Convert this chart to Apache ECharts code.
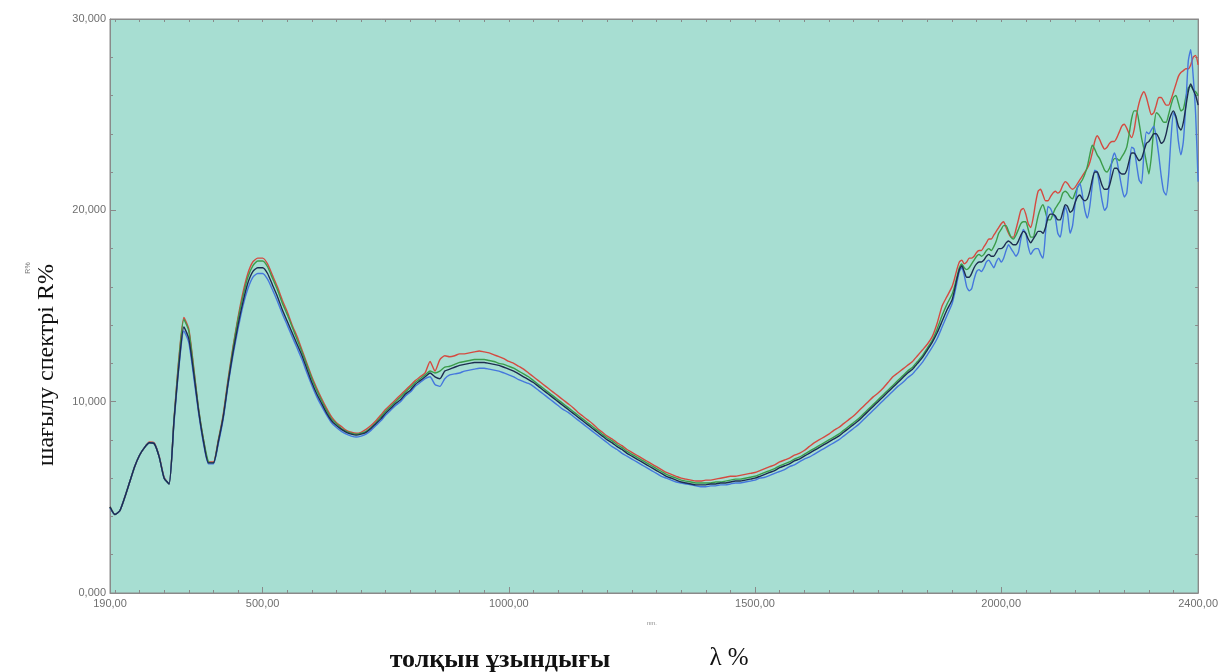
<!DOCTYPE html>
<html><head><meta charset="utf-8">
<script src="https://cdn.jsdelivr.net/npm/echarts@6/dist/echarts.min.js"></script>
<style>html,body{margin:0;padding:0;background:#fff}#c{width:1221px;height:672px}</style>
</head><body><div id="c"></div>
<script>
const wavelength = [
190,200,210,220,230,240,250,260,270,280,
290,300,310,320,330,340,350,360,370,380,
390,400,410,420,430,440,450,460,470,480,
490,500,510,520,530,540,550,560,570,580,
590,600,610,620,630,640,650,660,670,680,
690,700,710,720,730,740,750,760,770,780,
790,800,810,820,830,840,850,860,870,880,
890,900,910,920,930,940,950,960,970,980,
990,1000,1010,1020,1030,1040,1050,1060,1070,1080,
1090,1100,1110,1120,1130,1140,1150,1160,1170,1180,
1190,1200,1210,1220,1230,1240,1250,1260,1270,1280,
1290,1300,1310,1320,1330,1340,1350,1360,1370,1380,
1390,1400,1410,1420,1430,1440,1450,1460,1470,1480,
1490,1500,1510,1520,1530,1540,1550,1560,1570,1580,
1590,1600,1610,1620,1630,1640,1650,1660,1670,1680,
1690,1700,1710,1720,1730,1740,1750,1760,1770,1780,
1790,1800,1810,1820,1830,1840,1850,1860,1870,1880,
1890,1900,
1905,1910,1915,1920,1925,1930,1935,1940,1945,1950,
1955,1960,1965,1970,1975,1980,1985,1990,1995,2000,
2005,2010,2015,2020,2025,2030,2035,2040,2045,2050,
2055,2060,2065,2070,2075,2080,2085,2090,2095,2100,
2105,2110,2115,2120,2125,2130,2135,2140,2145,2150,
2155,2160,2165,2170,2175,2180,2185,2190,2195,2200,
2205,2210,2215,2220,2225,2230,2235,2240,2245,2250,
2255,2260,2265,2270,2275,2280,2285,2290,2295,2300,
2305,2310,2315,2320,2325,2330,2335,2340,2345,2350,
2355,2360,2365,2370,2375,2380,2385,2390,2395,2400
];

const sampleRed = [
4.5,4.1,4.3,5.0,5.8,6.6,7.2,7.6,7.9,7.85,
7.15,6.05,5.7,9.1,12.3,14.4,13.8,11.8,9.6,8.0,
6.85,6.85,8.0,9.35,11.2,12.9,14.4,15.7,16.7,17.3,
17.5,17.5,17.2,16.6,16.0,15.3,14.7,14.0,13.4,12.7,
12.0,11.3,10.7,10.15,9.65,9.2,8.9,8.7,8.5,8.4,
8.35,8.4,8.55,8.75,9.0,9.3,9.6,9.85,10.1,10.35,
10.6,10.85,11.1,11.3,11.5,12.1,11.6,12.2,12.4,12.35,
12.4,12.5,12.5,12.55,12.6,12.65,12.6,12.55,12.45,12.35,
12.25,12.1,12.0,11.85,11.7,11.5,11.3,11.1,10.9,10.7,
10.5,10.3,10.1,9.9,9.7,9.45,9.25,9.05,8.85,8.6,
8.4,8.2,8.05,7.85,7.7,7.5,7.35,7.2,7.05,6.9,
6.75,6.6,6.45,6.3,6.2,6.1,6.0,5.95,5.9,5.85,
5.85,5.9,5.9,5.95,6.0,6.05,6.1,6.1,6.15,6.2,
6.25,6.3,6.4,6.5,6.6,6.7,6.85,6.95,7.05,7.2,
7.3,7.45,7.65,7.85,8.0,8.15,8.3,8.5,8.65,8.85,
9.05,9.25,9.5,9.75,10.0,10.25,10.45,10.7,11.0,11.3,
11.5,11.7,11.9,12.1,12.4,12.7,13.0,13.4,14.1,15.0,
15.5,16.0,
16.4,16.9,17.3,17.4,17.2,17.3,17.5,17.5,17.6,17.8,
17.9,17.9,18.1,18.3,18.5,18.5,18.7,18.9,19.1,19.3,
19.4,19.1,18.8,18.6,18.6,19.0,19.5,20.0,20.1,19.8,
19.3,19.1,19.6,20.4,21.0,21.1,20.8,20.5,20.5,20.7,
20.9,21.0,20.9,21.0,21.3,21.5,21.4,21.2,21.1,21.2,
21.4,21.6,21.8,22.0,22.2,22.5,23.0,23.6,23.9,23.7,
23.4,23.2,23.3,23.5,23.6,23.6,23.8,24.1,24.4,24.5,
24.3,24.0,23.8,24.2,25.0,25.6,26.0,26.2,25.9,25.4,
25.0,25.1,25.5,25.9,25.9,25.7,25.5,25.5,25.8,26.2,
26.6,27.0,27.2,27.3,27.4,27.4,27.6,28.0,28.1,27.6
];

const sampleGreen = [
4.5,4.1,4.3,5.0,5.8,6.6,7.2,7.6,7.85,7.8,
7.1,6.0,5.7,9.05,12.2,14.3,13.7,11.7,9.6,8.0,
6.85,6.8,7.95,9.25,11.1,12.8,14.3,15.5,16.5,17.1,
17.35,17.35,17.05,16.45,15.85,15.15,14.55,13.9,13.25,12.6,
11.9,11.2,10.6,10.05,9.55,9.1,8.85,8.6,8.45,8.35,
8.3,8.35,8.45,8.65,8.9,9.2,9.5,9.75,10.0,10.25,
10.5,10.75,11.0,11.2,11.4,11.6,11.5,11.6,11.8,11.85,
11.95,12.05,12.1,12.15,12.2,12.2,12.2,12.15,12.1,12.0,
11.95,11.85,11.75,11.6,11.45,11.3,11.1,10.9,10.7,10.5,
10.3,10.1,9.9,9.7,9.5,9.3,9.1,8.9,8.7,8.5,
8.3,8.1,7.95,7.75,7.6,7.4,7.25,7.1,6.95,6.8,
6.65,6.5,6.35,6.2,6.1,6.0,5.9,5.85,5.8,5.75,
5.75,5.75,5.75,5.8,5.8,5.85,5.9,5.95,5.95,6.0,
6.05,6.1,6.2,6.3,6.4,6.5,6.65,6.75,6.85,7.0,
7.1,7.25,7.4,7.55,7.7,7.85,8.0,8.15,8.3,8.5,
8.7,8.9,9.1,9.35,9.6,9.85,10.1,10.35,10.6,10.85,
11.1,11.35,11.6,11.8,12.1,12.4,12.8,13.2,13.8,14.5,
15.1,15.6,
16.0,16.5,17.0,17.2,17.0,16.9,17.0,17.2,17.4,17.6,
17.7,17.6,17.7,17.9,18.0,17.9,18.1,18.4,18.8,19.0,
19.2,19.2,18.9,18.6,18.5,18.7,19.0,19.3,19.4,19.4,
19.0,18.6,18.6,19.1,19.7,20.1,20.3,19.9,19.5,19.5,
19.8,20.1,20.3,20.5,20.9,21.0,20.9,20.7,20.6,20.9,
21.2,21.4,21.6,21.9,22.3,22.9,23.4,23.2,22.9,22.7,
22.4,22.1,22.0,22.2,22.5,22.7,22.7,22.6,22.8,23.0,
23.3,24.0,24.8,25.2,25.2,24.6,23.8,23.2,22.5,21.9,
22.8,24.3,25.1,25.0,24.8,24.6,24.6,25.0,25.5,25.9,
26.0,25.6,25.2,25.3,25.9,26.4,26.5,26.3,26.2,26.0
];

const sampleBlue = [
4.45,4.1,4.3,5.0,5.8,6.6,7.2,7.6,7.85,7.8,
7.1,6.0,5.7,8.9,11.8,13.7,13.1,11.3,9.4,7.8,
6.75,6.75,7.8,9.1,10.9,12.45,13.8,15.0,15.9,16.5,
16.7,16.7,16.4,15.85,15.25,14.6,14.0,13.4,12.8,12.2,
11.5,10.85,10.25,9.75,9.3,8.9,8.65,8.45,8.3,8.2,
8.15,8.2,8.3,8.5,8.75,9.0,9.3,9.55,9.8,10.0,
10.3,10.5,10.8,11.0,11.2,11.3,10.9,10.8,11.2,11.4,
11.45,11.5,11.6,11.65,11.7,11.75,11.75,11.7,11.65,11.6,
11.5,11.4,11.3,11.15,11.05,10.95,10.8,10.6,10.4,10.2,
10.0,9.8,9.6,9.45,9.25,9.05,8.85,8.65,8.45,8.25,
8.05,7.85,7.65,7.5,7.3,7.15,7.0,6.85,6.7,6.55,
6.4,6.25,6.1,6.0,5.9,5.8,5.75,5.7,5.65,5.6,
5.55,5.55,5.6,5.6,5.65,5.65,5.7,5.75,5.75,5.8,
5.85,5.9,6.0,6.05,6.15,6.25,6.35,6.45,6.6,6.7,
6.85,7.0,7.1,7.25,7.4,7.55,7.7,7.85,8.0,8.2,
8.4,8.6,8.8,9.05,9.3,9.55,9.8,10.05,10.3,10.55,
10.8,11.0,11.25,11.45,11.75,12.05,12.45,12.85,13.3,13.9,
14.5,15.1,
15.6,16.2,16.8,17.0,16.6,16.0,15.8,15.9,16.4,16.8,
16.9,16.8,17.0,17.3,17.4,17.2,17.0,17.3,17.5,17.3,
17.5,17.9,18.2,18.0,17.8,17.6,17.8,18.5,19.0,18.8,
18.1,17.7,17.9,18.0,18.0,17.7,17.5,18.8,20.2,20.1,
19.8,19.6,18.8,18.6,19.4,20.2,19.8,18.8,19.2,20.3,
21.2,21.4,20.8,20.0,19.6,20.2,21.3,22.1,22.0,21.3,
20.5,20.0,20.2,21.5,22.6,23.0,22.6,21.9,21.2,20.7,
20.9,22.2,23.3,23.2,22.4,21.6,21.4,23.0,24.1,24.0,
24.2,24.4,23.8,22.9,21.8,21.0,20.8,21.8,23.8,25.1,
24.8,23.6,22.9,23.6,25.5,27.8,28.4,27.0,25.0,21.5
];

const sampleDark = [
4.5,4.1,4.3,5.0,5.8,6.6,7.2,7.6,7.85,7.8,
7.1,6.0,5.7,9.0,11.9,13.9,13.3,11.5,9.5,7.9,
6.8,6.8,7.9,9.2,11.0,12.6,14.0,15.2,16.2,16.8,
17.0,17.0,16.7,16.1,15.5,14.8,14.2,13.6,13.0,12.4,
11.7,11.0,10.4,9.9,9.4,9.0,8.75,8.55,8.4,8.3,
8.25,8.3,8.4,8.6,8.85,9.1,9.4,9.65,9.9,10.1,
10.4,10.6,10.9,11.1,11.3,11.5,11.3,11.2,11.6,11.7,
11.8,11.9,11.95,12.0,12.05,12.05,12.05,12.0,11.95,11.9,
11.8,11.7,11.6,11.45,11.3,11.15,11.0,10.8,10.6,10.4,
10.2,10.0,9.8,9.6,9.4,9.2,9.0,8.8,8.6,8.4,
8.2,8.0,7.85,7.65,7.5,7.3,7.15,7.0,6.85,6.7,
6.55,6.4,6.25,6.1,6.0,5.9,5.8,5.75,5.7,5.65,
5.65,5.65,5.7,5.7,5.75,5.75,5.8,5.85,5.85,5.9,
5.95,6.0,6.1,6.2,6.3,6.4,6.55,6.65,6.75,6.9,
7.0,7.15,7.3,7.45,7.6,7.75,7.9,8.05,8.2,8.4,
8.6,8.8,9.0,9.25,9.5,9.75,10.0,10.25,10.5,10.75,
11.0,11.25,11.5,11.7,12.0,12.3,12.7,13.1,13.6,14.2,
14.8,15.3,
15.8,16.4,16.9,17.1,16.8,16.5,16.5,16.7,17.0,17.2,
17.3,17.3,17.4,17.6,17.7,17.6,17.6,17.8,18.0,18.0,
18.1,18.3,18.4,18.3,18.2,18.2,18.4,18.7,18.9,18.8,
18.5,18.3,18.5,18.7,18.9,18.9,18.8,19.1,19.6,19.8,
19.8,19.7,19.5,19.5,19.9,20.3,20.2,19.9,20.0,20.4,
20.7,20.8,20.6,20.5,20.6,21.0,21.6,22.0,22.0,21.7,
21.3,21.1,21.1,21.3,21.8,22.2,22.2,22.0,21.9,21.9,
22.1,22.6,23.0,23.0,22.8,22.6,22.7,23.1,23.5,23.6,
23.8,24.0,24.0,23.8,23.5,23.6,24.0,24.6,25.0,25.2,
24.9,24.4,24.2,24.6,25.4,26.2,26.6,26.3,26.0,25.5
];

const xLabelValues = [190, 500, 1000, 1500, 2000, 2400];
const xMajorTicks = [500, 1000, 1500, 2000];
const xMinorTicks = [200,250,300,350,400,450,550,600,650,700,750,800,850,900,950,
  1050,1100,1150,1200,1250,1300,1350,1400,1450,1550,1600,1650,1700,1750,1800,1850,1900,1950,
  2050,2100,2150,2200,2250,2300,2350];
const xAllTicks = [200,250,300,350,400,450,500,550,600,650,700,750,800,850,900,950,1000,
  1050,1100,1150,1200,1250,1300,1350,1400,1450,1500,1550,1600,1650,1700,1750,1800,1850,1900,1950,2000,
  2050,2100,2150,2200,2250,2300,2350];

const yTitle = 'шағылу спектрі R%';
const yUnitSmall = 'R%';
const xTitle = 'толқын ұзындығы';
const xTitleSymbol = 'λ %';
const xUnitSmall = 'nm.';

const seriesNames = ['1', '2', '3', '4'];
const seriesColors = ['#d54a40', '#3b9c4a', '#4577dd', '#1d2c50'];
const seriesValues = [sampleRed, sampleGreen, sampleBlue, sampleDark];

const axisGrey = '#8a8a8a';
const chart = echarts.init(document.getElementById('c'), null, {renderer: 'canvas'});

const commonX = {type: 'value', min: 190, max: 2400, splitLine: {show: false}};
const option = {
  animation: false,
  backgroundColor: '#ffffff',
  grid: {left: 110, right: 22, top: 19, bottom: 79, show: true,
    backgroundColor: '#a7ded2', borderColor: axisGrey, borderWidth: 1},
  xAxis: [
    Object.assign({}, commonX, {position: 'bottom',
      axisLine: {show: true, onZero: false, lineStyle: {color: axisGrey, width: 1}},
      axisTick: {show: true, inside: true, length: 6, customValues: xMajorTicks, lineStyle: {color: axisGrey}},
      axisLabel: {customValues: xLabelValues, formatter: v => v.toFixed(2).replace('.', ','),
        color: '#6f6f6f', fontSize: 11, fontFamily: 'Liberation Sans', margin: 5}}),
    Object.assign({}, commonX, {position: 'bottom', offset: 0,
      axisLine: {show: false, onZero: false},
      axisTick: {show: true, inside: true, length: 3, customValues: xMinorTicks, lineStyle: {color: axisGrey}},
      axisLabel: {show: false}}),
    Object.assign({}, commonX, {position: 'top',
      axisLine: {show: true, onZero: false, lineStyle: {color: axisGrey}},
      axisTick: {show: true, inside: true, length: 3, customValues: xAllTicks, lineStyle: {color: axisGrey}},
      axisLabel: {show: false}})
  ],
  yAxis: [
    {type: 'value', min: 0, max: 30, interval: 10, position: 'left',
      axisLine: {show: true, onZero: false, lineStyle: {color: axisGrey}},
      axisTick: {show: true, inside: true, length: 6, lineStyle: {color: axisGrey}},
      minorTick: {show: true, splitNumber: 5, length: 3, lineStyle: {color: axisGrey}},
      splitLine: {show: false},
      axisLabel: {formatter: v => v.toFixed(3).replace('.', ','), color: '#6f6f6f', fontSize: 11,
        fontFamily: 'Liberation Sans', margin: 4}},
    {type: 'value', min: 0, max: 30, interval: 10, position: 'right',
      axisLine: {show: true, onZero: false, lineStyle: {color: axisGrey}},
      axisTick: {show: true, inside: true, length: 4, lineStyle: {color: axisGrey}},
      minorTick: {show: true, splitNumber: 5, length: 3, lineStyle: {color: axisGrey}},
      splitLine: {show: false}, axisLabel: {show: false}}
  ],
  series: seriesValues.map((vals, k) => ({
    name: seriesNames[k], type: 'line', xAxisIndex: 0, yAxisIndex: 0,
    showSymbol: false, symbol: 'none', smooth: 0.2,
    lineStyle: {color: seriesColors[k], width: 1.4},
    data: wavelength.map((w, i) => [w, vals[i]])
  })),
  graphic: [
    {type: 'text', x: 47, y: 365, rotation: Math.PI / 2,
      style: {text: yTitle, font: '24px "Liberation Serif"', fill: '#111', align: 'center', verticalAlign: 'middle'}},
    {type: 'text', x: 28, y: 268, rotation: Math.PI / 2,
      style: {text: yUnitSmall, font: '7px "Liberation Sans"', fill: '#777', align: 'center', verticalAlign: 'middle'}},
    {type: 'text', x: 652, y: 623,
      style: {text: xUnitSmall, font: '6px "Liberation Sans"', fill: '#888', align: 'center', verticalAlign: 'middle'}},
    {type: 'text', x: 500, y: 660,
      style: {text: xTitle, font: 'bold 26px "Liberation Serif"', fill: '#111', align: 'center', verticalAlign: 'middle'}},
    {type: 'text', x: 729, y: 658,
      style: {text: xTitleSymbol, font: '25px "Liberation Serif"', fill: '#111', align: 'center', verticalAlign: 'middle'}}
  ]
};
chart.setOption(option);
</script>
</body></html>
